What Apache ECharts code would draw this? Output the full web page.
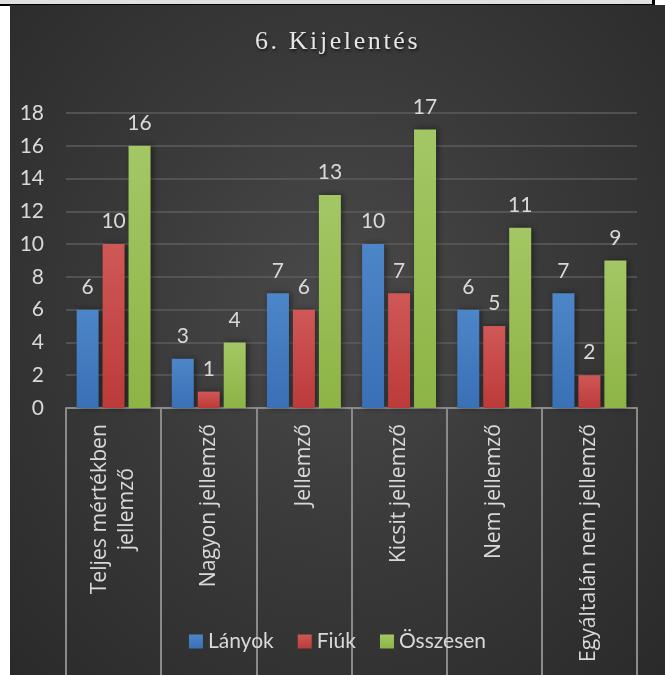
<!DOCTYPE html>
<html>
<head>
<meta charset="utf-8">
<script src="https://cdn.jsdelivr.net/npm/echarts@6/dist/echarts.min.js"></script>
<style>
    html, body { margin: 0; padding: 0; background: #fff; width: 665px; height: 675px; overflow: hidden; }
    .top-strip { position: absolute; left: 0; top: 0; width: 652px; height: 4px; background: #e0e0e0; border-bottom: 2px solid #000; border-right: 3px solid #000; }
    .chart-bg {
        position: absolute; left: 10px; top: 5px; width: 655px; height: 670px;
        background: radial-gradient(ellipse at 50% 45%, #4a4a4a 0%, #3a3a3a 45%, #2a2a2a 100%);
    }
    #main { position: absolute; left: 10px; top: 5px; width: 655px; height: 670px; }
    .title {
        position: absolute; left: 10px; top: 26px; width: 655px; text-align: center;
        font-family: "Liberation Serif", serif; font-size: 26px; letter-spacing: 2.6px;
        color: #e6e6e6; text-shadow: 1px 2px 3px rgba(0,0,0,0.6);
    }
</style>
</head>
<body>
<div class="top-strip"></div>
<div class="chart-bg"></div>
<div id="main"></div>
<div class="title">6. Kijelentés</div>
<script>
// 6. Kijelentés - válaszok megoszlása
const categories = ['Teljes mértékben\njellemző', 'Nagyon jellemző', 'Jellemző', 'Kicsit jellemző', 'Nem jellemző', 'Egyáltalán nem jellemző']
const lanyok = [6, 3, 7, 10, 6, 7]
const fiuk = [10, 1, 6, 7, 5, 2]
const osszesen = [16, 4, 13, 17, 11, 9]
const yTicks = [0, 2, 4, 6, 8, 10, 12, 14, 16, 18]

const FONT = 'Lato'
const LABEL_FONT = 'Open Sans'
const TEXT_COLOR = '#d9d9d9'

const grad = (top, bottom) => new echarts.graphic.LinearGradient(0, 0, 0, 1, [
    { offset: 0, color: top },
    { offset: 1, color: bottom }
])

const makeSeries = (name, data, top, bottom) => ({
    name,
    type: 'bar',
    data,
    barWidth: 22,
    barGap: '18%',
    itemStyle: {
        color: grad(top, bottom),
        shadowColor: 'rgba(0,0,0,0.45)',
        shadowBlur: 6,
        shadowOffsetX: 2,
        shadowOffsetY: 0
    },
    label: {
        show: true,
        position: 'top',
        distance: 12,
        color: TEXT_COLOR,
        fontFamily: FONT,
        fontSize: 21
    }
})

const myChart = echarts.init(document.getElementById('main'))
myChart.setOption({
    backgroundColor: 'transparent',
    animation: false,
    color: ['#3f78bd', '#c0403f', '#92b84b'],
    legend: {
        left: 'center',
        top: 621,
        itemWidth: 14,
        itemHeight: 14,
        itemGap: 24,
        icon: 'rect',
        textStyle: { color: TEXT_COLOR, fontFamily: FONT, fontSize: 21 }
    },
    grid: {
        left: 56,
        right: 28,
        top: 108,
        bottom: 267,
        containLabel: false,
        outerBoundsMode: 'none'
    },
    xAxis: {
        type: 'category',
        data: categories,
        boundaryGap: true,
        axisLine: { show: true, lineStyle: { color: '#8a8a8a', width: 2 } },
        axisTick: {
            show: true,
            alignWithLabel: false,
            length: 290,
            lineStyle: { color: '#8a8a8a', width: 2 }
        },
        axisLabel: {
            rotate: 90,
            margin: 16,
            interval: 0,
            hideOverlap: false,
            color: TEXT_COLOR,
            fontFamily: LABEL_FONT,
            fontSize: 21.2,
            lineHeight: 27,
            formatter: v => v.split('\n').map(s => '{c|' + s + '}').join('\n'),
            rich: {
                c: { align: 'center', color: TEXT_COLOR, fontFamily: LABEL_FONT, fontSize: 21.2, lineHeight: 27 }
            }
        }
    },
    yAxis: {
        type: 'value',
        min: yTicks[0],
        max: yTicks[yTicks.length - 1],
        interval: 2,
        axisLine: { show: false },
        axisTick: { show: false },
        axisLabel: {
            margin: 22,
            color: TEXT_COLOR,
            fontFamily: FONT,
            fontSize: 21
        },
        splitLine: { lineStyle: { color: '#5c5c5c', width: 1.5 } }
    },
    series: [
        makeSeries('Lányok', lanyok, '#4d86c8', '#3a70b6'),
        makeSeries('Fiúk', fiuk, '#cf5856', '#bc3a3a'),
        makeSeries('Összesen', osszesen, '#a3c765', '#8db445')
    ]
})
</script>
</body>
</html>
